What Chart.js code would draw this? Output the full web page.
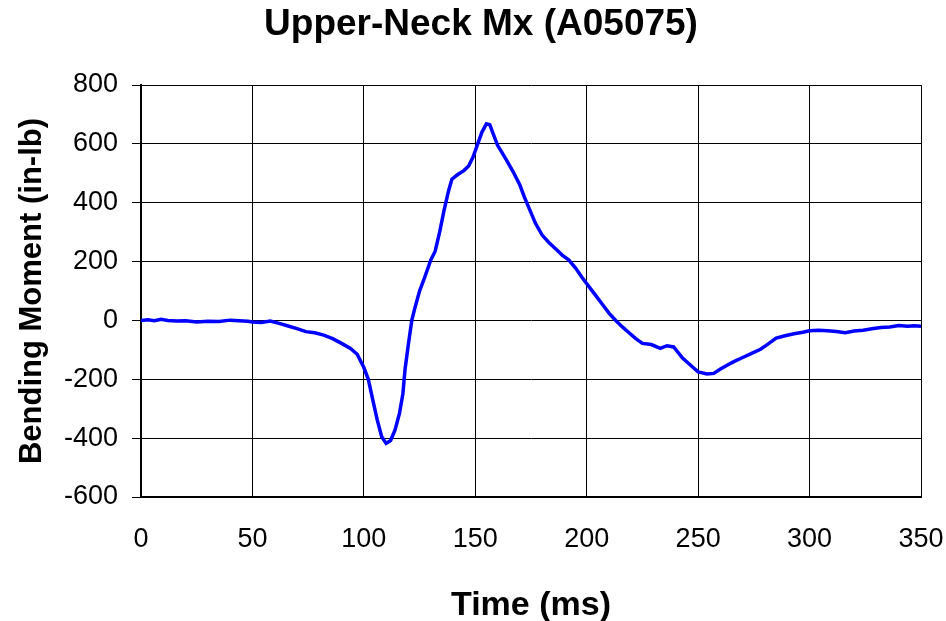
<!DOCTYPE html>
<html>
<head>
<meta charset="utf-8">
<script src="https://cdn.jsdelivr.net/npm/chart.js@4.4.1/dist/chart.umd.min.js"></script>
<style>
  html, body { margin: 0; padding: 0; background: #fff; }
  #wrap { width: 946px; height: 621px; }
</style>
</head>
<body>
<div id="wrap"><canvas id="neckChart" width="946" height="621"></canvas></div>
<script>
const chartTitle = 'Upper-Neck Mx (A05075)';
const xTitle = 'Time (ms)';
const yTitle = 'Bending Moment (in-lb)';

// time (ms) and moment (in-lb)
const timeMs = [
    0, 3, 6, 9, 12, 16, 20, 25, 30, 35, 40, 44, 48, 50, 54, 58, 62, 66, 70, 74,
    78, 82, 86, 90, 94, 97, 100, 102, 104, 106, 108, 110, 112, 114, 116, 117.5, 118.5, 120, 121.5, 123,
    125, 127, 130, 132, 134, 136, 138, 139.5, 142, 145, 147, 149, 151, 153, 155, 156.5, 158, 160, 162, 164,
    167, 170, 172, 174.5, 177, 180, 183, 186.5, 189, 192, 195, 198, 201, 204, 207, 210, 213, 216, 219, 222,
    225, 229, 233, 236, 239, 243, 247, 250, 254, 257, 260, 263, 266, 270, 274, 278, 281, 285, 289, 293,
    297, 300, 304, 308, 312, 316, 320, 324, 328, 332, 336, 340, 344, 347, 350
];
const momentInLb = [
    0, 2, -1, 4, 0, -2, -1, -5, -3, -4, 1, -1, -3, -5, -7, -2, -10, -19, -28, -38,
    -42, -50, -62, -78, -95, -115, -160, -200, -270, -338, -395, -418, -408, -372, -315, -250, -165, -80, 0, 45,
    100, 140, 205, 235, 300, 375, 440, 480, 495, 510, 525, 555, 598, 640, 668, 665, 635, 595, 570, 545,
    505, 460, 420, 375, 330, 290, 265, 240, 222, 205, 178, 145, 115, 85, 55, 25, 0, -22, -42, -62,
    -78, -82, -95, -86, -90, -128, -155, -175, -182, -180, -165, -152, -140, -126, -112, -98, -82, -60, -52, -45,
    -40, -35, -33, -35, -38, -42, -36, -33, -28, -24, -22, -17, -20, -18, -20
];

const xTicks = [0, 50, 100, 150, 200, 250, 300, 350];
const yTicks = [-600, -400, -200, 0, 200, 400, 600, 800];

const fontFamily = '"Liberation Sans", Arial, Helvetica, sans-serif';

const points = timeMs.map((t, i) => ({ x: t, y: momentInLb[i] }));

const ctx = document.getElementById('neckChart').getContext('2d');
new Chart(ctx, {
    type: 'line',
    data: {
        datasets: [{
            label: 'Mx',
            data: points,
            borderColor: '#0000ff',
            borderWidth: 3.5,
            pointRadius: 0,
            tension: 0,
            fill: false
        }]
    },
    options: {
        responsive: false,
        animation: false,
        parsing: false,
        layout: { padding: { left: 18, right: 2, top: 0, bottom: 0 } },
        plugins: {
            legend: { display: false },
            tooltip: { enabled: false },
            title: {
                display: true,
                text: chartTitle,
                color: '#000',
                font: { family: fontFamily, size: 37, weight: 'bold' },
                padding: { top: 3, bottom: 37.6 }
            }
        },
        scales: {
            x: {
                type: 'linear',
                min: xTicks[0],
                max: xTicks[xTicks.length - 1],
                afterBuildTicks: s => { s.ticks = xTicks.map(v => ({ value: v })); },
                afterFit: s => {
                    s.height = 124;
                    s.paddingLeft = 0;
                    s.paddingRight = 25;
                },
                grid: { color: '#000', lineWidth: 1, drawTicks: false },
                border: { color: '#000', width: 2 },
                ticks: {
                    color: '#000',
                    padding: 26,
                    maxRotation: 0,
                    font: { family: fontFamily, size: 27 }
                },
                title: {
                    display: true,
                    text: xTitle,
                    color: '#000',
                    font: { family: fontFamily, size: 34, weight: 'bold', lineHeight: 1.0 },
                    padding: { top: 0, bottom: -2 }
                }
            },
            y: {
                min: yTicks[0],
                max: yTicks[yTicks.length - 1],
                afterBuildTicks: s => { s.ticks = yTicks.map(v => ({ value: v })); },
                afterFit: s => { s.width = 123; },
                grid: { color: '#000', lineWidth: 1, drawTicks: true, tickLength: 9 },
                border: { color: '#000', width: 2 },
                ticks: {
                    color: '#000',
                    padding: 14,
                    font: { family: fontFamily, size: 27 }
                },
                title: {
                    display: true,
                    text: yTitle,
                    color: '#000',
                    font: { family: fontFamily, size: 31, weight: 'bold', lineHeight: 0.6 },
                    padding: { top: 5, bottom: 0 }
                }
            }
        }
    }
});
</script>
</body>
</html>
